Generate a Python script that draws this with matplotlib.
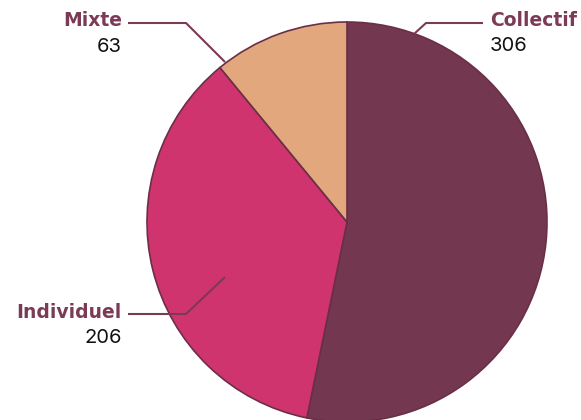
import numpy as np
import matplotlib.pyplot as plt

categories = ['Collectif', 'Individuel', 'Mixte']
values = [306, 206, 63]
colors = ['#73384F', '#D0346F', '#E2A77C']

label_color = '#7B3A55'
edge_color = '#6A2F47'

# canvas in pixel units, origin bottom-left
W, H = 581, 420
fig = plt.figure(figsize=(W / 100, H / 100), dpi=100)
ax = fig.add_axes([0, 0, 1, 1])

cx, cy, r = 347, H - 222, 200
ax.pie(values, colors=colors, startangle=90, counterclock=False,
       center=(cx, cy), radius=r, frame=True,
       wedgeprops=dict(edgecolor=edge_color, linewidth=1.2))
ax.set_xlim(0, W)
ax.set_ylim(0, H)
ax.set_aspect('equal')
ax.axis('off')

# leader lines: (start, elbow, end) in pixel coords from top-left
leaders = {
    'Collectif': [(414, 34), (426, 23), (483, 23)],
    'Individuel': [(225, 277), (186, 314), (128, 314)],
    'Mixte': [(225, 62), (186, 23), (128, 23)],
}
# text anchors: (x, y of name, y of value, ha)
anchors = {
    'Collectif': (490, 21, 46, 'left'),
    'Individuel': (122, 312, 338, 'right'),
    'Mixte': (122, 21, 47, 'right'),
}

for name, val in zip(categories, values):
    pts = leaders[name]
    xs = [p[0] for p in pts]
    ys = [H - p[1] for p in pts]
    ax.plot(xs, ys, color=label_color, linewidth=1.5, solid_capstyle='butt')
    tx, ty1, ty2, ha = anchors[name]
    ax.text(tx, H - ty1, name, ha=ha, va='center', fontsize=13.5,
            fontweight='bold', color=label_color, family='DejaVu Sans')
    ax.text(tx, H - ty2, str(val), ha=ha, va='center', fontsize=14.5,
            color='#111111', family='Inter')

fig.savefig('out.png', dpi=100)
